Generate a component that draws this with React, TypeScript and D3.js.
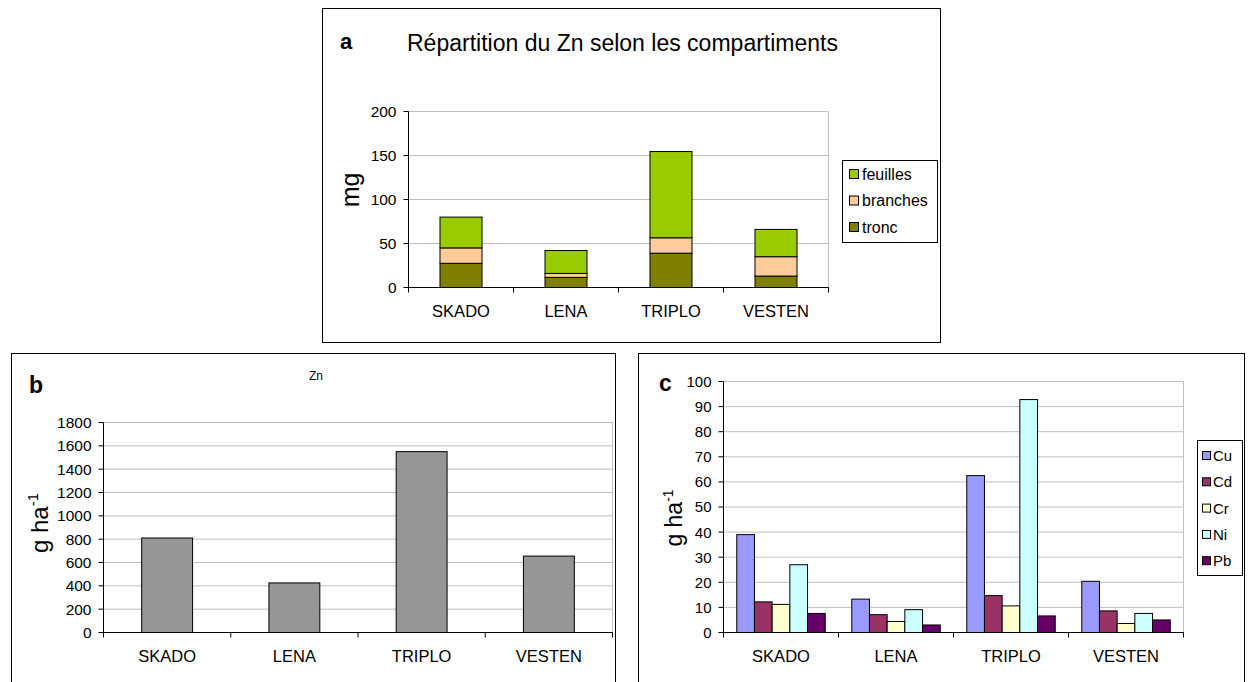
import React from 'react';
import * as d3 from 'd3';

const categories = ['SKADO', 'LENA', 'TRIPLO', 'VESTEN'];

// Panel a (stacked, mg)
const troncValues = [27.5, 11.5, 39, 13];
const branchesValues = [17.5, 4.5, 17.5, 22];
const feuillesValues = [35, 26, 98, 31];
const aTicks = [0, 50, 100, 150, 200];

// Panel b (Zn, g ha-1)
const znValues = [810, 425, 1550, 655];
const bTicks = [0, 200, 400, 600, 800, 1000, 1200, 1400, 1600, 1800];

// Panel c (metals, g ha-1)
const metalNames = ['Cu', 'Cd', 'Cr', 'Ni', 'Pb'];
const cuValues = [39, 13.3, 62.5, 20.4];
const cdValues = [12.2, 7.1, 14.7, 8.6];
const crValues = [11.2, 4.4, 10.6, 3.6];
const niValues = [27, 9.1, 92.8, 7.6];
const pbValues = [7.6, 3, 6.6, 5];
const cTicks = [0, 10, 20, 30, 40, 50, 60, 70, 80, 90, 100];

const FONT = '"Liberation Sans", Arial, sans-serif';
const GRID = '#C0C0C0';

const stackColors: Record<string, string> = { tronc: '#808000', branches: '#FFCC99', feuilles: '#99CC00' };
const metalColors = ['#9999FF', '#993366', '#FFFFCC', '#CCFFFF', '#660066'];

type Frame = { x0: number; x1: number; yTop: number; yBot: number };

function AxesFrame({ f, y, ticks, fs }: { f: Frame; y: d3.ScaleLinear<number, number>; ticks: number[]; fs: number }) {
  return (
    <g>
      {ticks.map((t) => (
        <line key={'g' + t} x1={f.x0} x2={f.x1} y1={y(t)} y2={y(t)} stroke={GRID} strokeWidth={1} />
      ))}
      <line x1={f.x1} x2={f.x1} y1={f.yTop} y2={f.yBot} stroke={GRID} strokeWidth={1} />
      {ticks.map((t) => (
        <g key={'t' + t}>
          <line x1={f.x0 - 5} x2={f.x0} y1={y(t)} y2={y(t)} stroke="#000" />
          <text x={f.x0 - 12} y={y(t)} dy="0.36em" textAnchor="end" fontSize={fs} fontFamily={FONT} fill="#000">
            {t}
          </text>
        </g>
      ))}
    </g>
  );
}

function AxisLines({ f, x }: { f: Frame; x: d3.ScaleBand<string> }) {
  const step = (f.x1 - f.x0) / categories.length;
  const bounds = d3.range(categories.length + 1).map((i) => f.x0 + i * step);
  return (
    <g>
      <line x1={f.x0} x2={f.x0} y1={f.yTop} y2={f.yBot} stroke="#000" />
      <line x1={f.x0} x2={f.x1} y1={f.yBot} y2={f.yBot} stroke="#000" />
      {bounds.map((b, i) => (
        <line key={i} x1={b} x2={b} y1={f.yBot} y2={f.yBot + 5} stroke="#000" />
      ))}
      {categories.map((c) => (
        <text key={c} x={(x(c) as number) + x.bandwidth() / 2} y={f.yBot + 29} textAnchor="middle" fontSize={16.5} fontFamily={FONT}>
          {c}
        </text>
      ))}
    </g>
  );
}

function PanelA() {
  const f: Frame = { x0: 408.5, x1: 828.5, yTop: 111.5, yBot: 287.5 };
  const x = d3.scaleBand<string>().domain(categories).range([f.x0, f.x1]).paddingInner(0.6).paddingOuter(0.3);
  const y = d3.scaleLinear().domain([0, 200]).range([f.yBot, f.yTop]);
  const rows = categories.map((c, i) => ({ cat: c, tronc: troncValues[i], branches: branchesValues[i], feuilles: feuillesValues[i] }));
  const keys = ['tronc', 'branches', 'feuilles'];
  const series = d3.stack<any>().keys(keys)(rows);
  const legendKeys = ['feuilles', 'branches', 'tronc'];
  return (
    <g>
      <rect x={322.5} y={8.5} width={618} height={334} fill="#fff" stroke="#000" />
      <text x={340} y={49} fontSize={22} fontWeight="bold" fontFamily={FONT}>a</text>
      <text x={407} y={51} fontSize={23} fontFamily={FONT} textLength={431} lengthAdjust="spacingAndGlyphs">Répartition du Zn selon les compartiments</text>
      <AxesFrame f={f} y={y} ticks={aTicks} fs={15.5} />
      {series.map((s) => (
        <g key={s.key}>
          {s.map((d: any) => (
            <rect
              key={d.data.cat}
              x={x(d.data.cat)}
              y={y(d[1])}
              width={x.bandwidth()}
              height={y(d[0]) - y(d[1])}
              fill={stackColors[s.key]}
              stroke="#000"
              strokeWidth={1}
            />
          ))}
        </g>
      ))}
      <AxisLines f={f} x={x} />
      <text transform={`translate(359,190) rotate(-90)`} textAnchor="middle" fontSize={25} fontFamily={FONT}>mg</text>
      <rect x={842.5} y={160.5} width={95} height={82} fill="#fff" stroke="#000" />
      {legendKeys.map((k, i) => (
        <g key={k} transform={`translate(849,${169 + i * 26.5})`}>
          <rect x={0.5} y={0.5} width={9} height={9} fill={stackColors[k]} stroke="#000" />
          <text x={13} y={5} dy="0.36em" fontSize={16} fontFamily={FONT}>{k}</text>
        </g>
      ))}
    </g>
  );
}

function PanelB() {
  const f: Frame = { x0: 103.5, x1: 612.5, yTop: 422.5, yBot: 632.5 };
  const x = d3.scaleBand<string>().domain(categories).range([f.x0, f.x1]).paddingInner(0.6).paddingOuter(0.3);
  const y = d3.scaleLinear().domain([0, 1800]).range([f.yBot, f.yTop]);
  return (
    <g>
      <rect x={11.5} y={353.5} width={604} height={340} fill="#fff" stroke="#000" />
      <text x={29} y={393} fontSize={23} fontWeight="bold" fontFamily={FONT}>b</text>
      <text x={316} y={380} textAnchor="middle" fontSize={12} fontFamily={FONT}>Zn</text>
      <AxesFrame f={f} y={y} ticks={bTicks} fs={15.5} />
      {categories.map((c, i) => (
        <rect key={c} x={x(c)} y={y(znValues[i])} width={x.bandwidth()} height={y(0) - y(znValues[i])} fill="#969696" stroke="#000" />
      ))}
      <AxisLines f={f} x={x} />
      <text transform={`translate(48,523) rotate(-90)`} textAnchor="middle" fontSize={24} fontFamily={FONT}>
        g ha<tspan dy="-10" fontSize={15}>-1</tspan>
      </text>
    </g>
  );
}

function PanelC() {
  const f: Frame = { x0: 723.5, x1: 1183.5, yTop: 381.5, yBot: 632.5 };
  const gap = 1.5 / 6.5;
  const x = d3.scaleBand<string>().domain(categories).range([f.x0, f.x1]).paddingInner(gap).paddingOuter(gap / 2);
  const xi = d3.scaleBand<string>().domain(metalNames).range([0, x.bandwidth()]);
  const y = d3.scaleLinear().domain([0, 100]).range([f.yBot, f.yTop]);
  const metalSeries = [cuValues, cdValues, crValues, niValues, pbValues];
  return (
    <g>
      <rect x={638.5} y={353.5} width={606} height={340} fill="#fff" stroke="#000" />
      <text x={659} y={391} fontSize={23} fontWeight="bold" fontFamily={FONT}>c</text>
      <AxesFrame f={f} y={y} ticks={cTicks} fs={15} />
      {categories.map((c, i) => (
        <g key={c} transform={`translate(${x(c)},0)`}>
          {metalNames.map((m, j) => (
            <rect
              key={m}
              x={xi(m)}
              y={y(metalSeries[j][i])}
              width={xi.bandwidth()}
              height={y(0) - y(metalSeries[j][i])}
              fill={metalColors[j]}
              stroke="#000"
            />
          ))}
        </g>
      ))}
      <AxisLines f={f} x={x} />
      <text transform={`translate(682,518) rotate(-90)`} textAnchor="middle" fontSize={23} fontFamily={FONT}>
        g ha<tspan dy="-9" fontSize={14}>-1</tspan>
      </text>
      <rect x={1197.5} y={440.5} width={45} height={135} fill="#fff" stroke="#000" />
      {metalNames.map((m, j) => (
        <g key={m} transform={`translate(1202,${451 + j * 26.3})`}>
          <rect x={0.5} y={0.5} width={8} height={8} fill={metalColors[j]} stroke="#000" />
          <text x={11} y={4.5} dy="0.36em" fontSize={15} fontFamily={FONT}>{m}</text>
        </g>
      ))}
    </g>
  );
}

export default function App() {
  return (
    <svg width={1250} height={682} style={{ position: 'absolute', left: 0, top: 0, background: '#fff' }}>
      <rect x={0} y={0} width={1250} height={682} fill="#fff" />
      <PanelA />
      <PanelB />
      <PanelC />
    </svg>
  );
}
